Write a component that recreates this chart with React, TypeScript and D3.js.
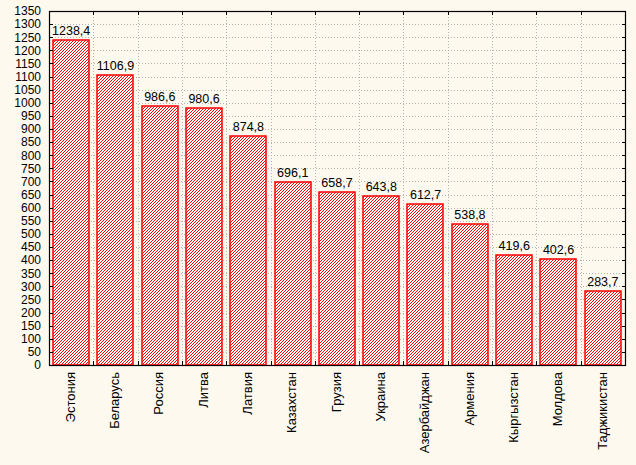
import { useEffect } from "react";
import * as d3 from "d3";

const countries = [
  "Эстония", "Беларусь", "Россия", "Литва", "Латвия", "Казахстан", "Грузия",
  "Украина", "Азербайджан", "Армения", "Кыргызстан", "Молдова", "Таджикистан",
];
const values = [1238.4, 1106.9, 986.6, 980.6, 874.8, 696.1, 658.7, 643.8, 612.7, 538.8, 419.6, 402.6, 283.7];
const yTicks = d3.range(0, 1351, 50);

const W = 636;
const H = 465;
const left = 49;
const right = 625;
const top = 11;
const bottom = 365;
const BG = "#fdf9ee";
const RED = "#ff0000";
const FONT = "'Liberation Sans', Arial, sans-serif";

export default function App() {
  useEffect(() => {
    document.body.style.margin = "0";
  }, []);

  const x = d3.scaleBand<string>().domain(countries).range([left, right]).paddingInner(0.18).paddingOuter(0.09);
  const y = d3.scaleLinear().domain([0, 1350]).range([bottom, top]);
  const step = (right - left) / countries.length;
  const bounds = d3.range(1, countries.length).map((i) => left + i * step);
  const fmt = (v: number) => v.toFixed(1).replace(".", ",");
  const px = (v: number) => Math.round(v) + 0.5;

  return (
    <svg width={W} height={H} style={{ display: "block", background: BG }} fontFamily={FONT}>
      <defs>
        {/* pixel hatch: one red pixel per row, stepping to make "/" lines every 3px */}
        <pattern id="hatch" patternUnits="userSpaceOnUse" width={3} height={3}>
          <rect width={3} height={3} fill="#fff" />
          <g fill={RED} shapeRendering="crispEdges">
            <rect x={2} y={0} width={1} height={1} />
            <rect x={1} y={1} width={1} height={1} />
            <rect x={0} y={2} width={1} height={1} />
          </g>
        </pattern>
      </defs>
      <rect width={W} height={H} fill={BG} />

      {/* grid */}
      <g stroke="#b4b4b4" strokeWidth={1} strokeDasharray="1,2">
        {yTicks.filter((t) => t > 0 && t < 1350).map((t) => (
          <line key={t} x1={left} x2={right} y1={px(y(t))} y2={px(y(t))} />
        ))}
        {bounds.map((b) => (
          <line key={b} x1={px(b)} x2={px(b)} y1={top} y2={bottom} />
        ))}
      </g>

      {/* bars */}
      {countries.map((c, i) => (
        <rect
          key={c}
          x={Math.round(x(c) as number)}
          y={Math.round(y(values[i]))}
          width={Math.round(x.bandwidth())}
          height={bottom - Math.round(y(values[i]))}
          fill="url(#hatch)"
          stroke={RED}
          strokeWidth={1.5}
        />
      ))}

      {/* value labels */}
      {countries.map((c, i) => (
        <text
          key={c}
          x={(x(c) as number) + x.bandwidth() / 2}
          y={y(values[i]) - 5}
          textAnchor="middle"
          fontSize={12.5}
          fill="#000"
        >
          {fmt(values[i])}
        </text>
      ))}

      {/* frame */}
      <rect x={left + 0.5} y={top + 0.5} width={right - left} height={bottom - top} fill="none" stroke="#000" strokeWidth={1.2} />

      {/* ticks */}
      <g stroke="#000" strokeWidth={1}>
        {yTicks.map((t) => (
          <g key={t}>
            <line x1={left} x2={left + 4} y1={px(y(t))} y2={px(y(t))} />
            <line x1={right - 3} x2={right} y1={px(y(t))} y2={px(y(t))} />
          </g>
        ))}
        {bounds.map((b) => (
          <g key={b}>
            <line x1={px(b)} x2={px(b)} y1={top} y2={top + 4} />
            <line x1={px(b)} x2={px(b)} y1={bottom - 4} y2={bottom} />
          </g>
        ))}
      </g>

      {/* y tick labels */}
      {yTicks.map((t) => (
        <text key={t} x={41} y={y(t)} dy="0.36em" textAnchor="end" fontSize={12} fill="#000">
          {t}
        </text>
      ))}

      {/* x labels */}
      {countries.map((c) => {
        const cx = (x(c) as number) + x.bandwidth() / 2 - 1;
        return (
          <text
            key={c}
            transform={`translate(${cx},372) rotate(-90)`}
            textAnchor="end"
            dy="0.36em"
            fontSize={13}
            fill="#000"
          >
            {c}
          </text>
        );
      })}
    </svg>
  );
}
